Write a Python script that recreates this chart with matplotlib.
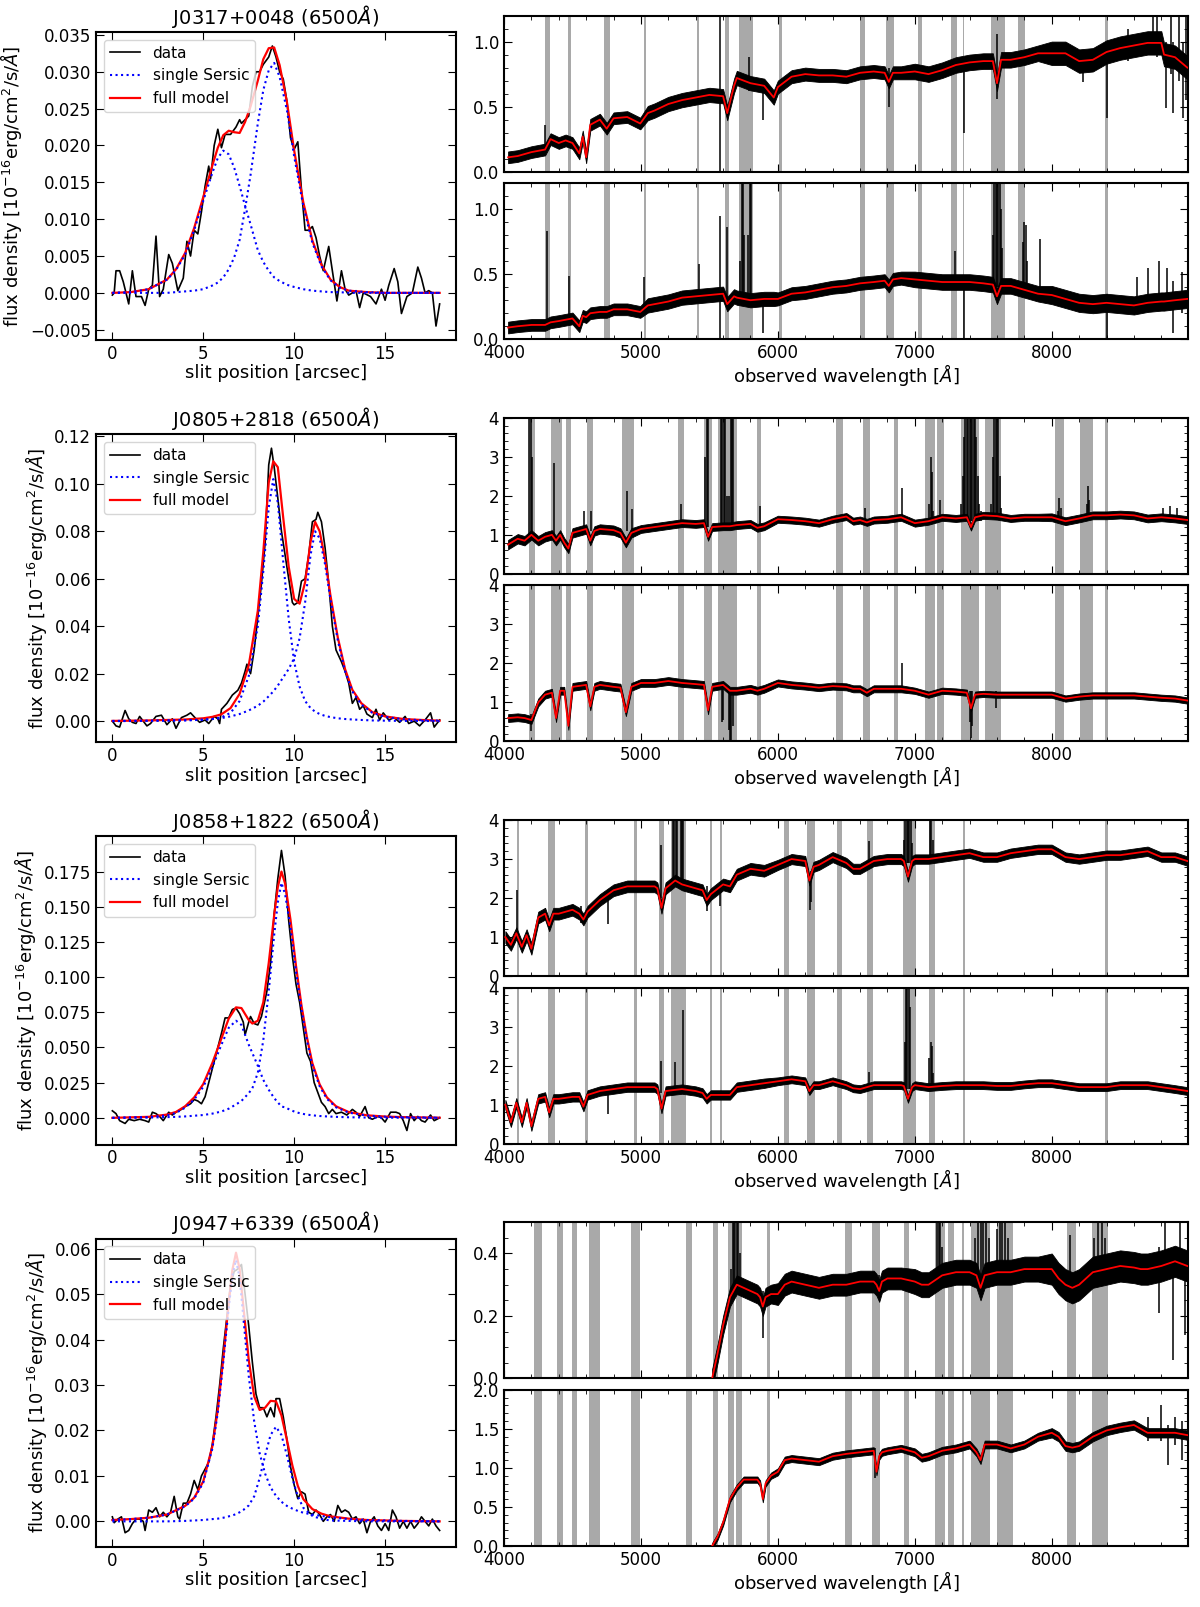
import numpy as np
import matplotlib.pyplot as plt
from matplotlib.ticker import AutoMinorLocator, MultipleLocator

plt.rcParams.update({
    'font.size': 12,
    'xtick.direction': 'in', 'ytick.direction': 'in',
    'xtick.top': True, 'ytick.right': True,
    'xtick.major.size': 6, 'ytick.major.size': 6,
    'xtick.minor.size': 3, 'ytick.minor.size': 3,
    'xtick.labelsize': 12, 'ytick.labelsize': 12,
    'axes.linewidth': 1.5,
})

names = ['J0317+0048', 'J0805+2818', 'J0858+1822', 'J0947+6339']

# ---------------- slit profiles: data ----------------
p1x = [0.0, 0.1, 0.2, 0.4, 0.6, 0.9, 1.1, 1.3, 1.6, 1.8, 2.0, 2.2, 2.4, 2.6, 2.8, 3.1, 3.3, 3.6, 3.9, 4.1,
       4.3, 4.5, 4.7, 4.9, 5.1, 5.3, 5.4, 5.6, 5.8, 6.0, 6.2, 6.5, 6.8, 7.0, 7.1, 7.3, 7.5, 7.7, 7.9, 8.1,
       8.3, 8.6, 8.8, 9.0, 9.2, 9.4, 9.6, 9.8, 10.0, 10.2, 10.4, 10.6, 10.8, 11.0, 11.2, 11.4, 11.6, 11.9,
       12.1, 12.35, 12.6, 12.8, 13.0, 13.4, 13.6, 13.8, 14.2, 14.5, 14.8, 15.0, 15.2, 15.5, 15.7, 15.9,
       16.2, 16.5, 16.8, 17.0, 17.2, 17.4, 17.6, 17.8, 18.0]
p1y = [-0.0003, 0.0, 0.003, 0.003, 0.0015, -0.0015, 0.003, -0.0005, -0.0005, -0.0017, 0.0005, 0.001,
       0.0077, -0.0005, 0.0005, 0.0052, 0.004, 0.0003, 0.002, 0.007, 0.005, 0.0085, 0.008, 0.011, 0.0145,
       0.0172, 0.0155, 0.020, 0.0222, 0.0197, 0.0215, 0.0215, 0.0225, 0.0235, 0.023, 0.0235, 0.024, 0.028,
       0.030, 0.030, 0.031, 0.032, 0.0335, 0.032, 0.030, 0.029, 0.026, 0.021, 0.0195, 0.0205, 0.014,
       0.0085, 0.0085, 0.009, 0.0075, 0.005, 0.003, 0.0063, 0.003, -0.0011, 0.003, 0.0005, -0.0003,
       0.0003, -0.002, 0.0, -0.0005, -0.0015, 0.0005, -0.001, 0.001, 0.0033, 0.0015, -0.0028, -0.0005,
       0.0, 0.0035, 0.002, 0.0, 0.0003, 0.0, -0.0045, -0.0015]

p2x = [0.0, 0.2, 0.4, 0.7, 0.9, 1.1, 1.3, 1.5, 1.7, 1.9, 2.1, 2.4, 2.7, 3.0, 3.3, 3.5, 3.8, 4.1, 4.3, 4.6,
       4.8, 5.1, 5.3, 5.6, 5.8, 5.9, 6.0, 6.3, 6.6, 6.9, 7.1, 7.3, 7.4, 7.6, 7.8, 8.0, 8.2, 8.4, 8.6, 8.75,
       8.9, 9.1, 9.3, 9.5, 9.7, 9.9, 10.0, 10.2, 10.4, 10.6, 10.8, 11.0, 11.2, 11.3, 11.5, 11.7, 11.9,
       12.1, 12.3, 12.6, 12.8, 13.0, 13.2, 13.4, 13.6, 13.8, 14.0, 14.3, 14.5, 14.7, 14.9, 15.2, 15.5,
       15.8, 16.1, 16.3, 16.6, 16.9, 17.2, 17.5, 17.7, 18.0]
p2y = [0.0, -0.002, -0.0025, 0.0045, 0.001, -0.0005, -0.001, 0.002, 0.0, -0.002, -0.001, 0.002, 0.0025,
       -0.0015, 0.001, -0.003, 0.0015, 0.0025, 0.0035, 0.001, -0.0005, 0.0005, -0.001, 0.002, 0.001,
       -0.001, 0.005, 0.0075, 0.011, 0.013, 0.016, 0.021, 0.024, 0.020, 0.030, 0.044, 0.058, 0.075, 0.108,
       0.115, 0.107, 0.094, 0.080, 0.070, 0.060, 0.050, 0.049, 0.050, 0.059, 0.060, 0.070, 0.084, 0.085,
       0.088, 0.084, 0.073, 0.058, 0.040, 0.030, 0.025, 0.021, 0.016, 0.0075, 0.010, 0.005, 0.0065, 0.003,
       0.0015, 0.005, 0.0005, 0.0035, 0.0005, 0.0015, -0.0005, 0.002, -0.001, 0.0, -0.002, 0.0005, 0.0035,
       -0.0025, 0.0005]

p3x = [0.0, 0.2, 0.4, 0.7, 0.9, 1.2, 1.5, 1.8, 2.0, 2.2, 2.4, 2.6, 2.8, 3.1, 3.3, 3.5, 3.8, 4.0, 4.3, 4.5,
       4.7, 4.9, 5.1, 5.3, 5.5, 5.8, 6.0, 6.2, 6.4, 6.6, 6.8, 7.0, 7.2, 7.3, 7.5, 7.6, 7.8, 8.0, 8.2, 8.5,
       8.7, 8.9, 9.1, 9.3, 9.5, 9.7, 9.9, 10.1, 10.3, 10.5, 10.7, 10.9, 11.1, 11.3, 11.5, 11.7, 11.9, 12.1,
       12.3, 12.6, 12.9, 13.2, 13.4, 13.6, 13.9, 14.1, 14.3, 14.6, 14.8, 15.0, 15.3, 15.6, 15.8, 16.0,
       16.2, 16.4, 16.6, 16.8, 17.0, 17.2, 17.5, 17.7, 18.0]
p3y = [0.005, 0.003, -0.002, -0.004, -0.001, -0.002, -0.001, -0.002, -0.003, 0.004, 0.003, 0.001, -0.002,
       0.004, 0.002, 0.004, 0.006, 0.008, 0.010, 0.013, 0.012, 0.010, 0.015, 0.025, 0.035, 0.050, 0.060,
       0.071, 0.071, 0.077, 0.078, 0.074, 0.068, 0.059, 0.068, 0.072, 0.067, 0.066, 0.072, 0.090, 0.110,
       0.145, 0.170, 0.190, 0.172, 0.140, 0.115, 0.095, 0.082, 0.064, 0.046, 0.040, 0.025, 0.018, 0.011,
       0.008, 0.003, 0.006, 0.003, 0.004, 0.002, 0.006, 0.004, 0.001, 0.008, 0.0, -0.001, 0.001, 0.0,
       -0.003, 0.004, 0.004, 0.003, -0.002, -0.009, 0.003, -0.002, 0.001, -0.002, -0.003, 0.002, -0.002, 0.0]

p4x = [0.0, 0.1, 0.3, 0.5, 0.7, 0.9, 1.1, 1.3, 1.5, 1.7, 1.8, 2.0, 2.2, 2.4, 2.6, 2.8, 3.0, 3.2, 3.4, 3.6,
       3.7, 3.9, 4.1, 4.3, 4.5, 4.7, 4.9, 5.1, 5.3, 5.5, 5.7, 5.9, 6.1, 6.3, 6.5, 6.7, 6.9, 7.1, 7.3, 7.5,
       7.7, 7.9, 8.1, 8.3, 8.5, 8.7, 8.9, 9.0, 9.2, 9.4, 9.6, 9.8, 10.0, 10.2, 10.4, 10.6, 10.8, 11.0,
       11.2, 11.4, 11.6, 11.8, 12.0, 12.2, 12.4, 12.6, 12.8, 13.0, 13.2, 13.4, 13.6, 13.8, 14.0, 14.2,
       14.4, 14.6, 14.8, 15.0, 15.2, 15.4, 15.6, 15.8, 16.0, 16.2, 16.4, 16.6, 16.8, 17.0, 17.2, 17.4,
       17.6, 17.8, 18.0]
p4y = [0.001, -0.0003, 0.0005, 0.001, -0.0025, -0.002, -0.0005, 0.0005, 0.0005, 0.0, -0.002, 0.0025,
       0.002, 0.003, 0.001, 0.002, 0.001, 0.002, 0.0055, 0.001, 0.0005, 0.004, 0.004, 0.006, 0.009, 0.007,
       0.010, 0.0115, 0.013, 0.017, 0.023, 0.030, 0.038, 0.045, 0.052, 0.055, 0.0555, 0.0565, 0.050, 0.043,
       0.035, 0.028, 0.025, 0.025, 0.023, 0.025, 0.023, 0.027, 0.027, 0.023, 0.018, 0.012, 0.008, 0.005,
       0.0065, 0.006, 0.002, 0.0015, 0.0025, 0.0015, 0.0, 0.001, 0.0015, 0.0, 0.0035, 0.002, 0.0025, 0.002,
       0.0005, 0.001, -0.0005, 0.0005, -0.0025, 0.0, 0.001, -0.001, -0.002, -0.0005, -0.002, 0.0025, 0.001,
       -0.0015, 0.0, -0.0015, 0.0, -0.0015, -0.0005, 0.001, 0.0, -0.001, 0.0005, -0.001, -0.002]

# ---------------- slit profiles: models (two Sersic components + sum) ----------------
m1x = [0, 1, 2, 3, 3.5, 4, 4.5, 5, 5.5, 5.8, 6.1, 6.4, 6.7, 7.0, 7.3, 7.6, 8.0, 8.3, 8.6, 8.9, 9.2, 9.6,
       10.0, 10.5, 11.0, 11.5, 12.0, 12.5, 13.0, 14.0, 15.0, 16.0, 17.0, 18.0]
s1a = [0.0, 0.0001, 0.0005, 0.0018, 0.0031, 0.0052, 0.0085, 0.0125, 0.0163, 0.0183, 0.0193, 0.0188, 0.0170,
       0.0145, 0.0118, 0.0093, 0.0058, 0.0042, 0.0030, 0.0021, 0.0016, 0.0011, 0.0008, 0.0005, 0.0003,
       0.0002, 0.0001, 0.0001, 0.0, 0.0, 0.0, 0.0, 0.0, 0.0]
s1b = [0.0, 0.0, 0.0, 0.0, 0.0001, 0.0002, 0.0003, 0.0005, 0.0010, 0.0014, 0.0021, 0.0032, 0.0048, 0.0072,
       0.0114, 0.0160, 0.0230, 0.0275, 0.0302, 0.0312, 0.0293, 0.0248, 0.0185, 0.0118, 0.0068, 0.0036,
       0.0017, 0.0007, 0.0003, 0.0001, 0.0, 0.0, 0.0, 0.0]
f1 = [0.0, 0.0001, 0.0005, 0.0018, 0.0032, 0.0054, 0.0088, 0.0130, 0.0173, 0.0197, 0.0214, 0.0220, 0.0218,
      0.0217, 0.0232, 0.0253, 0.0288, 0.0317, 0.0332, 0.0333, 0.0309, 0.0259, 0.0193, 0.0123, 0.0071,
      0.0038, 0.0018, 0.0008, 0.0003, 0.0001, 0.0, 0.0, 0.0, 0.0]

m2x = [0, 2, 4, 5, 5.5, 6, 6.5, 7, 7.5, 8, 8.3, 8.6, 8.85, 9.1, 9.4, 9.7, 10.0, 10.3, 10.6, 10.9, 11.15,
       11.4, 11.7, 12.0, 12.4, 12.8, 13.2, 13.7, 14.3, 15, 16, 17, 18]
s2a = [0.0001, 0.0002, 0.0004, 0.0006, 0.0009, 0.0016, 0.0035, 0.0085, 0.019, 0.040, 0.063, 0.090, 0.102,
       0.092, 0.067, 0.043, 0.025, 0.0145, 0.0085, 0.0055, 0.004, 0.003, 0.0022, 0.0017, 0.0012, 0.0009,
       0.0007, 0.0005, 0.0003, 0.0002, 0.0001, 0.0001, 0.0]
s2b = [0.0, 0.0001, 0.0003, 0.0006, 0.0009, 0.0013, 0.0020, 0.0030, 0.0045, 0.0065, 0.0082, 0.0105, 0.0125,
       0.0150, 0.0185, 0.0220, 0.0265, 0.0350, 0.0500, 0.0700, 0.0800, 0.0770, 0.0660, 0.0510, 0.0340,
       0.0210, 0.0125, 0.0070, 0.0035, 0.0018, 0.0008, 0.0004, 0.0002]
f2 = [0.0001, 0.0003, 0.0007, 0.0012, 0.0018, 0.0029, 0.0055, 0.0115, 0.0235, 0.0465, 0.0712, 0.1005,
      0.1095, 0.1070, 0.0855, 0.0650, 0.0515, 0.0495, 0.0585, 0.0755, 0.0840, 0.0800, 0.0682, 0.0527,
      0.0352, 0.0219, 0.0132, 0.0075, 0.0038, 0.0020, 0.0009, 0.0005, 0.0002]

m3x = [0, 2, 3, 3.5, 4, 4.5, 5, 5.5, 6, 6.4, 6.8, 7.1, 7.5, 7.7, 8.0, 8.3, 8.6, 8.9, 9.1, 9.3, 9.5, 9.8,
       10.1, 10.4, 10.7, 11.0, 11.4, 11.8, 12.3, 13, 14, 15, 16, 18]
s3a = [0.0, 0.0005, 0.0018, 0.0035, 0.0072, 0.013, 0.022, 0.036, 0.052, 0.064, 0.069, 0.066, 0.052, 0.046,
       0.037, 0.027, 0.020, 0.014, 0.011, 0.008, 0.0075, 0.0055, 0.004, 0.003, 0.0023, 0.0018, 0.0013,
       0.001, 0.0007, 0.0004, 0.0002, 0.0001, 0.0001, 0.0]
s3b = [0.0, 0.0002, 0.0005, 0.0007, 0.0010, 0.0015, 0.0020, 0.0030, 0.0045, 0.0065, 0.0095, 0.0120, 0.0175,
       0.0210, 0.0320, 0.0550, 0.0900, 0.1300, 0.1530, 0.1670, 0.1590, 0.1350, 0.1040, 0.0770, 0.0550,
       0.0370, 0.0225, 0.0135, 0.0075, 0.0037, 0.0016, 0.0008, 0.0004, 0.0001]
f3 = [0.0, 0.0007, 0.0023, 0.0042, 0.0082, 0.0145, 0.0240, 0.0390, 0.0565, 0.0705, 0.0785, 0.0780, 0.0695,
      0.0670, 0.0690, 0.0820, 0.1100, 0.1440, 0.1640, 0.1750, 0.1665, 0.1405, 0.1080, 0.0800, 0.0573,
      0.0388, 0.0238, 0.0145, 0.0082, 0.0041, 0.0018, 0.0009, 0.0005, 0.0001]

m4x = [0, 1, 2, 3, 4, 4.5, 5, 5.5, 5.8, 6.1, 6.4, 6.6, 6.8, 7.0, 7.2, 7.5, 7.8, 8.1, 8.4, 8.7, 9.0, 9.3,
       9.6, 9.9, 10.2, 10.5, 11, 11.5, 12, 13, 14, 15, 16, 18]
s4a = [0.0003, 0.0005, 0.0008, 0.0015, 0.0033, 0.0050, 0.0085, 0.0160, 0.0240, 0.0350, 0.0470, 0.0540,
       0.0575, 0.0535, 0.0450, 0.0320, 0.0220, 0.0150, 0.0105, 0.0075, 0.0056, 0.0043, 0.0034, 0.0028,
       0.0023, 0.0019, 0.0015, 0.0012, 0.0009, 0.0005, 0.0003, 0.0002, 0.0001, 0.0]
s4b = [0.0, 0.0, 0.0, 0.0, 0.0001, 0.0002, 0.0003, 0.0005, 0.0006, 0.0008, 0.0011, 0.0013, 0.0016, 0.0020,
       0.0025, 0.0035, 0.0055, 0.0095, 0.0145, 0.0190, 0.0208, 0.0190, 0.0145, 0.0095, 0.0055, 0.0030,
       0.0012, 0.0005, 0.0002, 0.0001, 0.0, 0.0, 0.0, 0.0]
f4 = [0.0003, 0.0005, 0.0008, 0.0015, 0.0034, 0.0052, 0.0088, 0.0165, 0.0246, 0.0358, 0.0481, 0.0553,
      0.0591, 0.0555, 0.0475, 0.0355, 0.0275, 0.0245, 0.0250, 0.0265, 0.0264, 0.0233, 0.0179, 0.0123,
      0.0078, 0.0049, 0.0027, 0.0017, 0.0011, 0.0006, 0.0003, 0.0002, 0.0001, 0.0]

# ---------------- spectra: wavelength grids and model fluxes ----------------
w1 = [4030, 4100, 4200, 4300, 4340, 4400, 4450, 4500, 4550, 4575, 4600, 4630, 4700, 4750, 4800, 4900,
      4995, 5050, 5100, 5200, 5300, 5400, 5500, 5600, 5630, 5680, 5700, 5800, 5900, 5970, 6000, 6100,
      6200, 6300, 6400, 6500, 6600, 6700, 6780, 6810, 6840, 6900, 7000, 7100, 7200, 7300, 7400, 7500,
      7570, 7600, 7630, 7700, 7800, 7900, 8000, 8100, 8200, 8300, 8400, 8500, 8600, 8700, 8800, 8820,
      8900, 8990]
m1a = [0.11, 0.12, 0.15, 0.17, 0.25, 0.22, 0.24, 0.22, 0.14, 0.27, 0.11, 0.36, 0.40, 0.33, 0.41, 0.42,
       0.37, 0.45, 0.47, 0.52, 0.55, 0.57, 0.59, 0.58, 0.45, 0.66, 0.72, 0.68, 0.66, 0.57, 0.65, 0.73,
       0.75, 0.74, 0.74, 0.73, 0.76, 0.77, 0.76, 0.69, 0.76, 0.76, 0.77, 0.75, 0.78, 0.82, 0.84, 0.85,
       0.85, 0.68, 0.86, 0.86, 0.88, 0.91, 0.91, 0.91, 0.85, 0.86, 0.92, 0.95, 0.97, 0.99, 0.99, 0.90,
       0.88, 0.80]
m1b = [0.09, 0.10, 0.11, 0.11, 0.13, 0.14, 0.15, 0.16, 0.10, 0.18, 0.17, 0.20, 0.21, 0.21, 0.23, 0.23,
       0.21, 0.26, 0.27, 0.29, 0.32, 0.33, 0.34, 0.35, 0.27, 0.33, 0.32, 0.30, 0.31, 0.31, 0.31, 0.35,
       0.36, 0.38, 0.40, 0.41, 0.43, 0.44, 0.45, 0.41, 0.46, 0.47, 0.46, 0.45, 0.44, 0.44, 0.44, 0.43,
       0.42, 0.33, 0.41, 0.41, 0.38, 0.35, 0.34, 0.31, 0.28, 0.27, 0.28, 0.27, 0.26, 0.28, 0.29, 0.29,
       0.30, 0.31]

w2 = [4030, 4100, 4150, 4200, 4250, 4300, 4350, 4380, 4410, 4440, 4470, 4500, 4600, 4630, 4660, 4700,
      4800, 4850, 4890, 4930, 5000, 5100, 5200, 5300, 5400, 5460, 5490, 5520, 5600, 5650, 5700, 5800,
      5850, 5900, 6000, 6100, 6200, 6300, 6400, 6500, 6550, 6600, 6650, 6700, 6800, 6900, 7000, 7100,
      7200, 7300, 7380, 7410, 7440, 7500, 7600, 7700, 7800, 7900, 8000, 8100, 8200, 8300, 8400, 8500,
      8600, 8700, 8800, 8900, 8990]
m2a = [0.75, 0.90, 0.85, 1.00, 0.85, 0.95, 1.00, 0.85, 1.00, 0.80, 0.65, 1.05, 1.15, 0.85, 1.10, 1.15,
       1.12, 1.05, 0.80, 1.05, 1.15, 1.20, 1.25, 1.30, 1.28, 1.30, 0.95, 1.20, 1.22, 1.22, 1.25, 1.28,
       1.18, 1.22, 1.40, 1.38, 1.35, 1.30, 1.40, 1.47, 1.35, 1.38, 1.32, 1.38, 1.40, 1.45, 1.30, 1.35,
       1.45, 1.42, 1.45, 1.20, 1.45, 1.50, 1.48, 1.42, 1.45, 1.45, 1.45, 1.35, 1.42, 1.50, 1.50, 1.52,
       1.50, 1.42, 1.45, 1.42, 1.38]
m2b = [0.60, 0.62, 0.60, 0.55, 1.00, 1.20, 1.25, 0.60, 1.30, 1.30, 0.40, 1.40, 1.45, 0.90, 1.40, 1.45,
       1.40, 1.38, 0.75, 1.40, 1.50, 1.50, 1.55, 1.50, 1.47, 1.45, 0.80, 1.40, 1.45, 1.30, 1.30, 1.35,
       1.30, 1.35, 1.50, 1.45, 1.42, 1.38, 1.42, 1.40, 1.35, 1.35, 1.25, 1.35, 1.35, 1.35, 1.30, 1.20,
       1.30, 1.28, 1.25, 0.85, 1.20, 1.22, 1.20, 1.20, 1.20, 1.20, 1.20, 1.10, 1.15, 1.18, 1.18, 1.18,
       1.18, 1.15, 1.12, 1.10, 1.05]

w3 = [4010, 4050, 4090, 4130, 4165, 4200, 4250, 4300, 4330, 4360, 4400, 4500, 4550, 4580, 4610, 4700,
      4800, 4900, 5000, 5100, 5120, 5150, 5180, 5250, 5300, 5400, 5450, 5480, 5510, 5600, 5650, 5700,
      5800, 5900, 6000, 6100, 6200, 6230, 6260, 6300, 6400, 6500, 6550, 6600, 6700, 6800, 6900, 6920,
      6950, 6980, 7000, 7100, 7200, 7300, 7400, 7500, 7600, 7700, 7800, 7900, 8000, 8100, 8200, 8300,
      8400, 8500, 8600, 8700, 8800, 8900, 8990]
m3a = [1.00, 0.80, 1.10, 0.75, 1.05, 0.70, 1.50, 1.60, 1.30, 1.60, 1.60, 1.70, 1.60, 1.45, 1.65, 1.95,
       2.20, 2.30, 2.30, 2.30, 2.25, 1.75, 2.25, 2.45, 2.35, 2.25, 2.20, 1.95, 2.10, 2.35, 2.30, 2.60,
       2.75, 2.70, 2.85, 3.00, 2.95, 2.45, 2.80, 2.85, 3.05, 2.90, 2.75, 2.75, 2.95, 3.00, 3.00, 2.95,
       2.55, 2.95, 3.00, 3.00, 3.05, 3.10, 3.15, 3.05, 3.05, 3.15, 3.20, 3.25, 3.25, 3.05, 3.00, 3.05,
       3.10, 3.10, 3.15, 3.20, 3.05, 3.05, 2.95]
m3b = [1.00, 0.55, 1.05, 0.55, 1.05, 0.45, 1.15, 1.20, 0.80, 1.15, 1.15, 1.20, 1.20, 0.95, 1.25, 1.35,
       1.40, 1.45, 1.45, 1.45, 1.40, 0.90, 1.35, 1.38, 1.40, 1.35, 1.30, 1.15, 1.25, 1.25, 1.25, 1.45,
       1.50, 1.55, 1.60, 1.65, 1.60, 1.35, 1.50, 1.50, 1.60, 1.50, 1.42, 1.40, 1.50, 1.50, 1.50, 1.48,
       1.15, 1.45, 1.50, 1.45, 1.48, 1.50, 1.50, 1.50, 1.48, 1.48, 1.52, 1.55, 1.55, 1.50, 1.45, 1.45,
       1.45, 1.50, 1.50, 1.50, 1.45, 1.40, 1.35]

w4 = [5520, 5560, 5600, 5650, 5700, 5750, 5800, 5850, 5870, 5890, 5910, 5950, 6000, 6050, 6100, 6200,
      6300, 6400, 6500, 6600, 6700, 6720, 6740, 6760, 6800, 6900, 7000, 7050, 7100, 7200, 7300, 7400,
      7450, 7480, 7510, 7600, 7700, 7800, 7900, 8000, 8050, 8100, 8150, 8200, 8300, 8400, 8500, 8600,
      8650, 8700, 8800, 8900, 8990]
m4a = [0.00, 0.08, 0.17, 0.26, 0.30, 0.29, 0.28, 0.27, 0.26, 0.23, 0.26, 0.27, 0.27, 0.30, 0.31, 0.30,
       0.29, 0.30, 0.30, 0.31, 0.31, 0.30, 0.28, 0.31, 0.32, 0.32, 0.31, 0.30, 0.30, 0.33, 0.34, 0.34,
       0.33, 0.29, 0.33, 0.34, 0.34, 0.35, 0.35, 0.35, 0.32, 0.30, 0.29, 0.30, 0.34, 0.35, 0.36, 0.355,
       0.35, 0.35, 0.36, 0.375, 0.36]
m4b = [0.00, 0.12, 0.30, 0.60, 0.75, 0.85, 0.85, 0.85, 0.80, 0.60, 0.80, 0.90, 0.95, 1.10, 1.12, 1.10,
       1.08, 1.15, 1.18, 1.20, 1.22, 0.95, 1.15, 1.20, 1.22, 1.25, 1.20, 1.13, 1.15, 1.22, 1.25, 1.30,
       1.20, 1.10, 1.30, 1.30, 1.25, 1.30, 1.40, 1.45, 1.40, 1.28, 1.26, 1.28, 1.40, 1.48, 1.52, 1.55,
       1.50, 1.45, 1.45, 1.45, 1.42]

# data scatter (half width) per 1000 A block: 4000-5000, ..., 8000-9000
n1a = [0.045, 0.055, 0.05, 0.06, 0.09]
n1b = [0.045, 0.055, 0.05, 0.06, 0.07]
n2a = [0.12, 0.10, 0.09, 0.09, 0.10]
n2b = [0.10, 0.10, 0.09, 0.08, 0.08]
n3a = [0.15, 0.15, 0.13, 0.12, 0.12]
n3b = [0.12, 0.12, 0.10, 0.10, 0.10]
n4a = [0.03, 0.03, 0.035, 0.04, 0.05]
n4b = [0.04, 0.04, 0.045, 0.05, 0.06]

# emission / absorption spikes in the data: wavelength, bottom, top
sp1a_w = [4300, 5578, 5790, 5892, 6812, 7360, 7601, 8229, 8405, 8560, 8740, 8770, 8836, 8870, 8887, 8930,
          8960, 8980]
sp1a_lo = [0.15, 0.00, 0.62, 0.40, 0.50, 0.30, 0.56, 0.69, 0.41, 0.85, 0.90, 0.88, 0.49, 0.75, 0.45, 0.70,
           0.41, 0.55]
sp1a_hi = [0.36, 1.20, 0.88, 0.70, 0.80, 0.82, 1.06, 0.92, 0.95, 1.10, 1.20, 1.20, 1.00, 1.20, 1.00, 1.20,
           1.00, 1.20]
sp1b_w = [4314, 4475, 5023, 5422, 5578, 5627, 5725, 5735, 5745, 5755, 5785, 5795, 5805, 5892, 7294, 7360,
          7570, 7580, 7590, 7600, 7610, 7620, 7630, 7640, 7790, 7800, 7810, 7820, 7915, 8402, 8620, 8700,
          8780, 8840, 8887, 8950]
sp1b_lo = [0.10, 0.15, 0.22, 0.30, 0.00, 0.30, 0.30, 0.30, 0.30, 0.30, 0.30, 0.30, 0.30, 0.05, 0.40, 0.00,
           0.40, 0.40, 0.40, 0.40, 0.40, 0.40, 0.40, 0.40, 0.38, 0.38, 0.38, 0.38, 0.33, 0.00, 0.25, 0.25,
           0.25, 0.25, 0.05, 0.20]
sp1b_hi = [0.83, 0.49, 0.48, 0.58, 0.95, 0.86, 0.60, 1.20, 1.20, 0.80, 0.80, 1.20, 1.20, 0.32, 0.68, 0.45,
           0.80, 1.20, 1.20, 1.20, 1.20, 1.20, 1.00, 0.70, 0.75, 0.90, 0.88, 0.60, 0.77, 0.35, 0.48, 0.55,
           0.60, 0.55, 0.45, 0.52]

sp2a_w = [4185, 4195, 4205, 4367, 4587, 4632, 4896, 4937, 5294, 5470, 5480, 5490, 5585, 5595, 5605, 5615,
          5630, 5640, 5655, 5665, 5675, 5871, 6635, 6910, 7105, 7115, 7125, 7135, 7185,
          7340, 7350, 7360, 7370, 7380, 7390, 7400, 7410, 7420, 7430, 7440, 7450, 7460, 7470, 7480,
          7560, 7570, 7580, 7590, 7600, 7610, 7620, 7630,
          8045, 8055, 8065, 8255, 8265, 8275, 8815, 8860, 8917]
sp2a_lo = [0.9, 0.9, 0.9, 1.0, 1.1, 1.1, 1.1, 1.1, 1.2, 1.2, 1.2, 1.2, 1.2, 1.2, 1.2, 1.2,
           1.2, 1.2, 1.2, 1.2, 1.2, 1.2, 1.3, 1.35, 1.3, 1.3, 1.3, 1.3, 1.35,
           1.35, 1.35, 1.35, 1.35, 1.35, 1.35, 1.35, 1.35, 1.35, 1.35, 1.35, 1.35, 1.35, 1.35, 1.35,
           1.4, 1.4, 1.4, 1.4, 1.4, 1.4, 1.4, 1.4,
           1.35, 1.35, 1.35, 1.4, 1.4, 1.4, 1.35, 1.35, 1.35]
sp2a_hi = [4.0, 4.0, 3.0, 2.85, 1.6, 1.6, 2.12, 1.65, 1.8, 3.0, 4.0, 4.0, 4.0, 4.0, 4.0, 4.0,
           2.0, 2.0, 4.0, 4.0, 4.0, 1.75, 1.68, 2.2, 1.8, 3.0, 2.6, 1.6, 1.9,
           1.8, 2.5, 3.5, 4.0, 4.0, 4.0, 4.0, 4.0, 4.0, 4.0, 4.0, 3.5, 2.5, 1.8, 1.6,
           1.8, 3.0, 4.0, 4.0, 4.0, 4.0, 2.5, 1.7,
           1.6, 1.95, 1.7, 1.8, 2.25, 1.9, 1.7, 1.75, 1.7]
sp2b_w = [4197, 5590, 5600, 5640, 5650, 5660, 5670, 6910, 7400, 7410, 7420, 7592]
sp2b_lo = [0.26, 0.50, 0.55, 0.30, 0.00, 0.00, 0.40, 1.30, 0.50, 0.10, 0.40, 0.85]
sp2b_hi = [0.70, 1.35, 1.35, 1.30, 1.30, 1.30, 1.30, 2.02, 1.30, 1.30, 1.30, 1.30]

sp3a_w = [4095, 4560, 4761, 5148, 5235, 5245, 5255, 5265, 5290, 5300, 5310, 5480, 5579, 6235, 6244, 6669,
          6920, 6930, 6940, 6950, 6960, 6970, 6980, 7110, 7120, 7130]
sp3a_lo = [1.00, 1.35, 1.34, 2.00, 2.30, 2.30, 2.30, 2.30, 2.30, 2.30, 2.30, 1.68, 1.80, 1.70, 1.90, 2.80,
           2.90, 2.90, 2.90, 2.90, 2.90, 2.90, 2.90, 2.90, 2.90, 2.90]
sp3a_hi = [2.20, 1.80, 2.20, 3.36, 4.00, 4.00, 4.00, 4.00, 4.00, 4.00, 4.00, 2.30, 2.40, 2.60, 2.70, 3.47,
           3.50, 4.00, 4.00, 4.00, 4.00, 4.00, 3.40, 4.00, 4.00, 3.50]
sp3b_w = [4761, 5148, 5250, 5304, 6669, 6925, 6935, 6945, 6955, 6965, 7105, 7115, 7125, 7135]
sp3b_lo = [0.76, 1.30, 1.30, 1.40, 1.40, 1.40, 1.40, 1.40, 1.40, 1.40, 1.40, 1.40, 1.40, 1.40]
sp3b_hi = [1.30, 2.13, 2.09, 3.42, 1.83, 2.60, 4.00, 4.00, 4.00, 3.50, 2.20, 2.60, 2.50, 1.80]

sp4a_w = [5660, 5670, 5680, 5690, 5700, 5710, 5720, 5895, 6740, 7165, 7175, 7185, 7195, 7440, 7460, 7480,
          7500, 7520, 7540, 7600, 7620, 7640, 7660, 7680, 8136, 8310, 8340, 8370, 8390, 8781, 8830, 8883,
          8940, 8970]
sp4a_lo = [0.27, 0.27, 0.27, 0.27, 0.27, 0.27, 0.27, 0.13, 0.26, 0.30, 0.30, 0.30, 0.30, 0.30, 0.30, 0.30,
           0.30, 0.30, 0.30, 0.32, 0.32, 0.32, 0.32, 0.32, 0.33, 0.33, 0.33, 0.33, 0.33, 0.21, 0.33, 0.06,
           0.33, 0.14]
sp4a_hi = [0.35, 0.50, 0.50, 0.50, 0.50, 0.50, 0.40, 0.28, 0.33, 0.50, 0.50, 0.50, 0.42, 0.45, 0.50, 0.50,
           0.50, 0.50, 0.45, 0.48, 0.50, 0.50, 0.50, 0.45, 0.46, 0.45, 0.50, 0.50, 0.45, 0.42, 0.50, 0.40,
           0.50, 0.40]
sp4b_w = [6710, 8700, 8800, 8849, 8900, 8950]
sp4b_lo = [0.87, 1.35, 1.35, 1.04, 1.30, 1.10]
sp4b_hi = [1.25, 1.65, 1.80, 1.55, 1.65, 1.60]

# masked wavelength windows (grey)
b1_lo = [4299, 4465, 4727, 5019, 5406, 5616, 5718, 6010, 6601, 6791, 7022, 7267, 7351, 7559, 7756, 8387]
b1_hi = [4333, 4489, 4774, 5039, 5426, 5643, 5820, 6027, 6635, 6846, 7056, 7311, 7362, 7657, 7807, 8408]
b2_lo = [4180, 4346, 4452, 4604, 4859, 5270, 5457, 5565, 5851, 6428, 6618, 6849, 7073, 7165, 7338, 7514,
         8027, 8204, 8390]
b2_hi = [4224, 4424, 4486, 4652, 4947, 5314, 5521, 5698, 5878, 6472, 6676, 6879, 7144, 7212, 7470, 7626,
         8088, 8299, 8411]
b3_lo = [4092, 4323, 4594, 4947, 5134, 5222, 5501, 5576, 6044, 6214, 6431, 6652, 6917, 7100, 7351, 8390]
b3_hi = [4109, 4370, 4611, 4968, 5168, 5328, 5521, 5589, 6078, 6268, 6465, 6693, 7009, 7151, 7365, 8411]
b4_lo = [4221, 4390, 4496, 4618, 4930, 5328, 5528, 5633, 5691, 5919, 6492, 6689, 6920, 7151, 7243, 7348,
         7413, 7603, 8112, 8292]
b4_hi = [4275, 4428, 4536, 4700, 4992, 5372, 5562, 5681, 5735, 5942, 6543, 6747, 6958, 7219, 7287, 7362,
         7548, 7715, 8177, 8408]

rows = [
    dict(px=p1x, py=p1y, mx=m1x, sa=s1a, sb=s1b, full=f1, wave=w1, bands=(b1_lo, b1_hi),
         spec=[(m1a, n1a, sp1a_w, sp1a_lo, sp1a_hi), (m1b, n1b, sp1b_w, sp1b_lo, sp1b_hi)]),
    dict(px=p2x, py=p2y, mx=m2x, sa=s2a, sb=s2b, full=f2, wave=w2, bands=(b2_lo, b2_hi),
         spec=[(m2a, n2a, sp2a_w, sp2a_lo, sp2a_hi), (m2b, n2b, sp2b_w, sp2b_lo, sp2b_hi)]),
    dict(px=p3x, py=p3y, mx=m3x, sa=s3a, sb=s3b, full=f3, wave=w3, bands=(b3_lo, b3_hi),
         spec=[(m3a, n3a, sp3a_w, sp3a_lo, sp3a_hi), (m3b, n3b, sp3b_w, sp3b_lo, sp3b_hi)]),
    dict(px=p4x, py=p4y, mx=m4x, sa=s4a, sb=s4b, full=f4, wave=w4, bands=(b4_lo, b4_hi),
         spec=[(m4a, n4a, sp4a_w, sp4a_lo, sp4a_hi), (m4b, n4b, sp4b_w, sp4b_lo, sp4b_hi)]),
]

# per-panel y ranges and tick steps (top, bottom)
ylims = [((0, 1.2), (0, 1.2)), ((0, 4), (0, 4)), ((0, 4), (0, 4)), ((0, 0.5), (0, 2.0))]
ysteps = [(0.5, 0.5), (1, 1), (1, 1), (0.2, 0.5)]

fig = plt.figure(figsize=(12, 16.07), dpi=100)
dy = 0.2503

for i, r in enumerate(rows):
    # ---- left: slit profile ----
    ax = fig.add_axes([0.08, 0.7884 - i * dy, 0.30, 0.1917])
    h_data, = ax.plot(r['px'], r['py'], color='k', lw=1.2, label='data')
    h_full, = ax.plot(r['mx'], r['full'], color='red', lw=1.6, label='full model')
    h_ser, = ax.plot(r['mx'], r['sa'], color='blue', ls=':', lw=1.5, label='single Sersic')
    ax.plot(r['mx'], r['sb'], color='blue', ls=':', lw=1.5)
    ax.legend(handles=[h_data, h_ser, h_full], loc='upper left', fontsize=11)
    ax.set_title(names[i] + r' (6500$\AA$)', fontsize=14)
    ax.set_xlabel('slit position [arcsec]', fontsize=13, labelpad=1)
    ax.set_ylabel(r'flux density [10$^{-16}$erg/cm$^2$/s/$\AA$]', fontsize=13)
    ax.set_xticks([0, 5, 10, 15])

    # ---- right: two spectra ----
    wave = np.array(r['wave'])
    blk = np.minimum((wave - 4000) // 1000, 4).astype(int)
    for j, (mod, noise, sw, slo, shi) in enumerate(r['spec']):
        bottom = 0.8932 - i * dy if j == 0 else 0.7889 - i * dy
        axs = fig.add_axes([0.42, bottom, 0.57, 0.0971])
        for lo, hi in zip(*r['bands']):
            axs.axvspan(lo, hi, color='#a9a9a9', lw=0, zorder=0)
        mod = np.array(mod)
        err = np.array(noise)[blk]
        axs.fill_between(wave, mod - err, mod + err, color='k', lw=0.6, zorder=2)
        axs.vlines(sw, slo, shi, color='k', lw=1.1, zorder=2)
        axs.plot(wave, mod, color='red', lw=1.3, zorder=3)
        axs.set_xlim(4000, 8995)
        axs.set_ylim(*ylims[i][j])
        axs.xaxis.set_major_locator(MultipleLocator(1000))
        axs.yaxis.set_major_locator(MultipleLocator(ysteps[i][j]))
        axs.xaxis.set_minor_locator(AutoMinorLocator(5))
        axs.yaxis.set_minor_locator(AutoMinorLocator())
        axs.tick_params(which='both', top=True, right=True)
        if j == 0:
            axs.tick_params(labelbottom=False)
        else:
            axs.set_xlabel(r'observed wavelength [$\AA$]', fontsize=13, labelpad=0)

fig.savefig('out.png', dpi=100)
